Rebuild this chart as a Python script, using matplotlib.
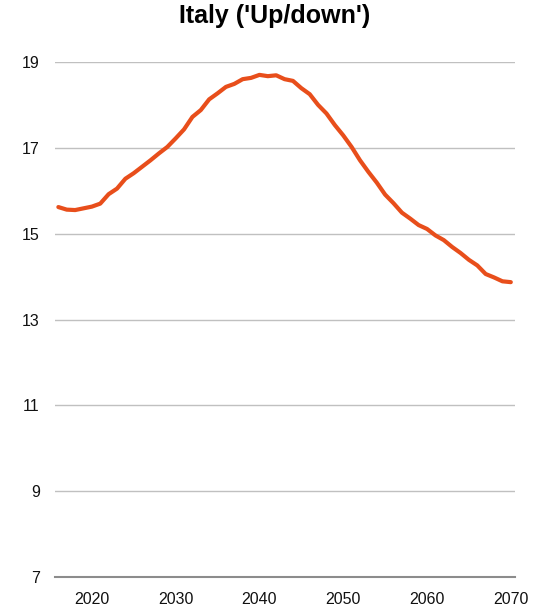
import numpy as np
import matplotlib
matplotlib.use("Agg")
import matplotlib.pyplot as plt

plt.rcParams['font.family'] = ['Liberation Sans', 'DejaVu Sans']

# annual values
years = list(range(2016, 2071))
values = [15.62, 15.56, 15.55, 15.59, 15.63, 15.70, 15.92, 16.05, 16.28, 16.41,
          16.56, 16.71, 16.87, 17.02, 17.22, 17.43, 17.72, 17.88, 18.13, 18.27,
          18.42, 18.49, 18.60, 18.63, 18.70, 18.67, 18.69, 18.60, 18.56, 18.39,
          18.25, 18.00, 17.80, 17.53, 17.29, 17.02, 16.71, 16.44, 16.19, 15.91,
          15.71, 15.49, 15.35, 15.20, 15.11, 14.96, 14.85, 14.69, 14.55, 14.39,
          14.26, 14.06, 13.98, 13.89, 13.87]
yticks = [7, 9, 11, 13, 15, 17, 19]
xticks = [2020, 2030, 2040, 2050, 2060, 2070]
title = "Italy ('Up/down')"

fig = plt.figure(figsize=(5.5, 6.09), dpi=100)
ax = fig.add_axes([55/550, 1 - 577/609, 460/550, 515/609])

ax.plot(years, values, color='#E84E1B', lw=3.0, solid_capstyle='round', zorder=3)

ax.set_xlim(2015.6, 2070.5)
ax.set_ylim(7, 19)
ax.set_yticks(yticks)
ax.set_xticks(xticks)
ax.grid(axis='y', color='#C0C0C0', lw=1.0)
ax.tick_params(length=0, labelsize=11.5, colors='#111111')
ax.tick_params(axis='y', pad=11)
ax.tick_params(axis='x', pad=11)

for s in ['top', 'right', 'left']:
    ax.spines[s].set_visible(False)
ax.spines['bottom'].set_color('#8C8C8C')
ax.spines['bottom'].set_linewidth(1.5)

fig.text(275/550, 1 - 16/609, title, ha='center', va='center',
         fontsize=18, fontweight='bold')

fig.savefig('out.png', dpi=100)
